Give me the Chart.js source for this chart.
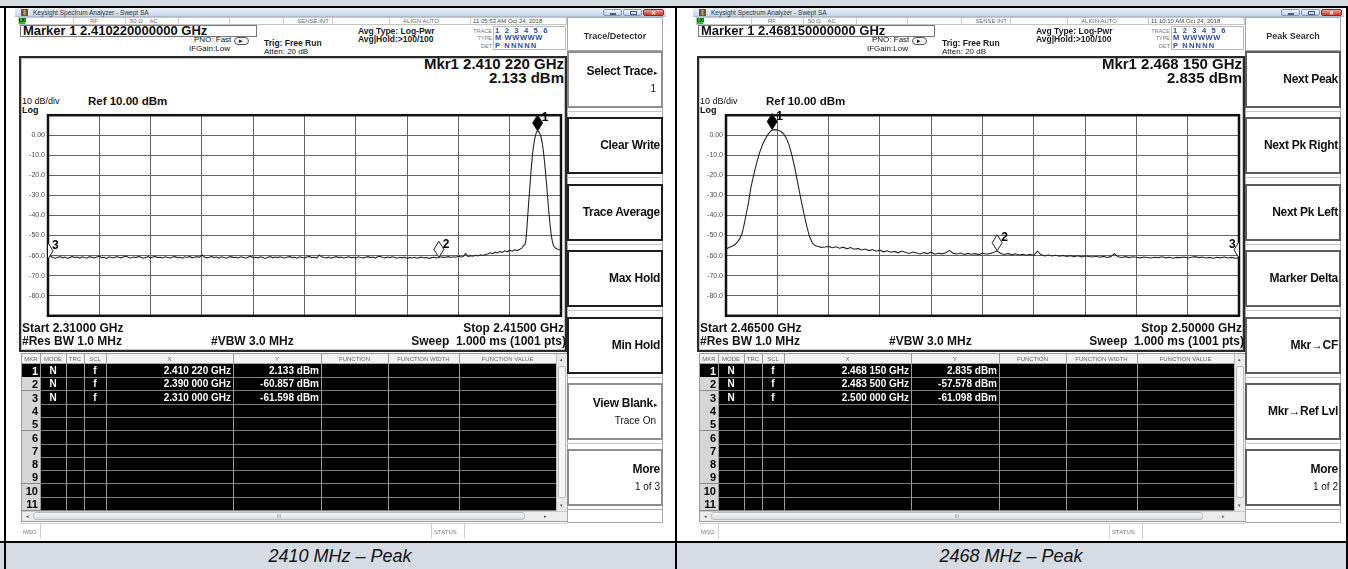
<!DOCTYPE html>
<html>
<head>
<meta charset="utf-8">
<title>Spectrum Analyzer - Peak</title>
<script src="https://cdn.jsdelivr.net/npm/chart.js@4.4.1/dist/chart.umd.min.js"></script>
<style>
    html, body { margin: 0; padding: 0; background: #fff; }
    body { width: 1348px; height: 569px; position: relative; overflow: hidden;
           font-family: "Liberation Sans", Arial, sans-serif; color: #111; }
    .a { position: absolute; box-sizing: border-box; }
    .t { line-height: 16px; white-space: nowrap; }
</style>
</head>
<body>
<div id="page"></div>
<script>
// ========================================
// Data (read from the two analyzer screens)
// ========================================

// Y axis ticks
const yTickValues = [0, -10, -20, -30, -40, -50, -60, -70, -80];
const yTickLabels = ['0.00', '-10.0', '-20.0', '-30.0', '-40.0', '-50.0', '-60.0', '-70.0', '-80.0'];

// Left screen: 2.310 - 2.415 GHz (MHz)
const leftSpan = [2310.0, 2415.0];
const leftFloorStart = 2310.0;
const leftFloorStep = 0.5;
const leftFloor = [
    -60.6, -60.2, -60.9, -61.3, -60.8, -60.5, -61.1, -60.7, -61.4, -60.9,
    -60.4, -61.0, -60.7, -61.2, -60.6, -60.9, -61.3, -60.5, -60.8, -61.1,
    -60.7, -60.3, -61.0, -60.8, -61.4, -60.6, -60.9, -61.2, -60.5, -60.8,
    -61.1, -60.6, -60.3, -60.9, -61.2, -60.7, -61.0, -60.4, -60.8, -61.3,
    -60.9, -60.5, -61.1, -60.7, -60.4, -61.0, -60.8, -61.2, -60.6, -60.9,
    -61.2, -60.7, -60.5, -61.0, -60.8, -61.3, -60.6, -60.9, -60.4, -61.1,
    -60.8, -60.5, -60.9, -59.6, -60.7, -61.1, -60.8, -60.4, -61.0, -60.7,
    -61.2, -60.6, -60.9, -61.3, -60.7, -60.5, -61.0, -60.8, -61.2, -60.6,
    -60.9, -61.3, -60.7, -60.4, -61.0, -60.8, -61.1, -60.6, -60.9, -61.4,
    -60.8, -60.5, -61.1, -60.7, -61.0, -60.6, -60.9, -61.2, -60.7, -60.5,
    -61.0, -60.8, -61.3, -60.6, -60.9, -61.1, -60.7, -60.4, -61.0, -60.8,
    -61.2, -59.7, -60.6, -60.9, -61.1, -60.7, -61.3, -60.8, -60.5, -61.0,
    -60.7, -61.2, -60.9, -60.6, -61.0, -60.8, -61.3, -60.6, -60.9, -61.1,
    -60.8, -60.5, -61.0, -60.7, -61.2, -60.6, -60.3, -60.9, -61.1, -60.7,
    -61.0, -60.6, -60.9, -61.3, -60.8, -61.1, -60.7, -61.4, -60.9, -61.2,
    -60.8, -61.3, -61.0, -60.7, -61.2, -60.9, -61.4, -61.0, -60.8, -61.1,
    -60.9, -60.6, -61.0, -60.7, -60.5, -60.9, -60.6, -60.8, -60.3, -60.7,
    -60.4, -59.0, -60.5, -60.0, -60.3, -59.8, -60.2, -59.6, -59.9, -59.4,
    -59.2, -58.6, -59.0, -58.3, -58.7, -57.9, -58.4, -57.6, -58.1, -57.3,
    -57.8, -57.1, -57.5
];
const leftPeakFreqs = [
    2406.5, 2407.0, 2407.3, 2407.6, 2407.8, 2408.0, 2408.2, 2408.4, 2408.6, 2408.8,
    2409.0, 2409.2, 2409.4, 2409.6, 2409.8, 2410.0, 2410.2, 2410.4, 2410.6, 2410.8,
    2411.0, 2411.2, 2411.4, 2411.6, 2411.8, 2412.0, 2412.2, 2412.4, 2412.6, 2412.8,
    2413.0, 2413.2, 2413.4, 2413.6, 2413.9, 2414.2, 2414.5, 2414.8, 2415.0
];
const leftPeakLevels = [
    -56.9, -56.3, -55.0, -54.6, -52.5, -47.0, -40.0, -33.0, -26.5, -20.0,
    -14.0, -9.0, -5.0, -2.0, 0.2, 1.6, 2.1, 1.9, 1.2, 0.0,
    -1.8, -4.5, -8.0, -12.5, -17.5, -23.0, -29.0, -35.0, -40.5, -45.5,
    -49.5, -52.5, -54.5, -55.6, -56.3, -56.7, -57.0, -57.2, -57.3
];
const leftMarkerFreqs = [2410.22, 2390.0, 2310.0];
const leftMarkerLevels = [2.133, -60.857, -61.598];

// Right screen: 2.465 - 2.500 GHz (MHz)
const rightSpan = [2465.0, 2500.0];
const rightPeakFreqs = [
    2465.0, 2465.2, 2465.4, 2465.6, 2465.8, 2465.95, 2466.1, 2466.25, 2466.4, 2466.55,
    2466.7, 2466.9, 2467.1, 2467.3, 2467.5, 2467.7, 2467.9, 2468.1, 2468.3, 2468.5,
    2468.7, 2468.9, 2469.1, 2469.3, 2469.5, 2469.7, 2469.9, 2470.1, 2470.3, 2470.5,
    2470.7, 2470.9, 2471.1, 2471.3, 2471.5, 2471.75
];
const rightPeakLevels = [
    -56.8, -56.0, -55.3, -54.6, -53.0, -51.4, -49.0, -44.0, -38.5, -33.0,
    -26.0, -19.5, -13.5, -8.5, -4.5, -1.5, 0.8, 2.4, 2.8, 2.6,
    2.1, 1.0, -1.2, -4.8, -10.0, -16.5, -24.0, -31.5, -38.5, -45.0,
    -50.5, -53.8, -55.1, -55.5, -55.9, -55.7
];
const rightFloorStart = 2472.0;
const rightFloorStep = 0.25;
const rightFloor = [
    -55.4, -56.1, -55.6, -56.3, -55.8, -56.6, -56.0, -56.8,
    -56.4, -57.2, -56.7, -57.5, -57.0, -57.8, -57.3, -58.1,
    -57.6, -58.3, -57.9, -58.6, -57.7, -58.4, -58.9, -58.2,
    -58.7, -59.2, -58.5, -59.0, -58.3, -59.3, -58.8, -59.1,
    -58.6, -57.4, -58.9, -59.2, -58.7, -59.4, -58.9, -59.3,
    -59.0, -59.5, -58.8, -59.2, -59.0, -58.4, -57.6, -58.9,
    -59.4, -58.9, -59.6, -59.1, -59.7, -59.3, -59.8, -59.4,
    -59.9, -57.8, -59.6, -60.1, -59.7, -60.2, -59.8, -60.3,
    -59.9, -60.4, -60.0, -60.5, -60.1, -60.6, -60.2, -60.4,
    -60.7, -60.3, -60.8, -60.4, -60.9, -60.5, -59.0, -60.6,
    -60.9, -60.5, -61.0, -60.6, -60.8, -61.1, -60.7, -60.9,
    -61.2, -60.8, -61.0, -60.6, -61.1, -60.8, -61.3, -60.9,
    -61.0, -60.7, -61.2, -60.8, -60.5, -61.0, -60.7, -61.2,
    -60.9, -61.3, -60.8, -61.1, -60.7, -61.2, -60.9, -61.3,
    -61.1
];
const rightMarkerFreqs = [2468.15, 2483.5, 2500.0];
const rightMarkerLevels = [2.835, -57.578, -61.098];

// ========================================
// Screen texts
// ========================================
const panels = [
    {
        ox: 0, canvas: 'leftChart',
        markerLine: 'Marker 1 2.410220000000 GHz',
        time: '11:05:53 AM Oct 24, 2018',
        mkr: 'Mkr1 2.410 220 GHz', mkrVal: '2.133 dBm',
        start: 'Start 2.31000 GHz', stop: 'Stop 2.41500 GHz',
        rows: [['N', 'f', '2.410 220 GHz', '2.133 dBm'],
               ['N', 'f', '2.390 000 GHz', '-60.857 dBm'],
               ['N', 'f', '2.310 000 GHz', '-61.598 dBm']],
        keysTitle: 'Trace/Detector',
        keys: [
            { l1: 'Select Trace', l2: '1', arrow: true, s: 'g' },
            { l1: 'Clear Write', s: 'k' },
            { l1: 'Trace Average', s: 'k' },
            { l1: 'Max Hold', s: 'k' },
            { l1: 'Min Hold', s: 'k' },
            { l1: 'View Blank', l2: 'Trace On', arrow: true, s: 'g' },
            { l1: 'More', l2: '1 of 3', s: 'g' }
        ],
        caption: '2410 MHz &ndash; Peak'
    },
    {
        ox: 678, canvas: 'rightChart',
        markerLine: 'Marker 1 2.468150000000 GHz',
        time: '11:10:10 AM Oct 24, 2018',
        mkr: 'Mkr1 2.468 150 GHz', mkrVal: '2.835 dBm',
        start: 'Start 2.46500 GHz', stop: 'Stop 2.50000 GHz',
        rows: [['N', 'f', '2.468 150 GHz', '2.835 dBm'],
               ['N', 'f', '2.483 500 GHz', '-57.578 dBm'],
               ['N', 'f', '2.500 000 GHz', '-61.098 dBm']],
        keysTitle: 'Peak Search',
        keys: [
            { l1: 'Next Peak', s: 'd' },
            { l1: 'Next Pk Right', s: 'd' },
            { l1: 'Next Pk Left', s: 'd' },
            { l1: 'Marker Delta', s: 'd' },
            { l1: 'Mkr&rarr;CF', s: 'd' },
            { l1: 'Mkr&rarr;Ref Lvl', s: 'd' },
            { l1: 'More', l2: '1 of 2', s: 'd' }
        ],
        caption: '2468 MHz &ndash; Peak'
    }
];

// ========================================
// Small HTML helpers
// ========================================
function box(x, y, w, h, style, inner) {
    return '<div class="a" style="left:' + x + 'px;top:' + y + 'px;width:' + w + 'px;height:' + h + 'px;' +
        (style || '') + '">' + (inner || '') + '</div>';
}
function text(x, y, s, style) {
    return '<div class="a t" style="left:' + x + 'px;top:' + (y - 8) + 'px;' + (style || '') + '">' + s + '</div>';
}
function textR(x, y, s, style) {
    return '<div class="a t" style="left:' + (x - 400) + 'px;width:400px;text-align:right;top:' + (y - 8) + 'px;' +
        (style || '') + '">' + s + '</div>';
}
function textC(x, y, s, style) {
    return '<div class="a t" style="left:' + (x - 200) + 'px;width:400px;text-align:center;top:' + (y - 8) + 'px;' +
        (style || '') + '">' + s + '</div>';
}

function panelHtml(p) {
    let h = '';
    const small = 'font-size:6px;color:#6a6a6a;';
    const setting = 'font-size:8.5px;font-weight:bold;color:#1a1a1a;';
    const big = 'font-size:12px;font-weight:bold;';
    const blue = 'font-size:7.5px;font-weight:bold;color:#2c4f9e;';

    // window + title bar
    h += box(15, 8, 651, 533, 'background:#fff;');
    h += box(15, 8, 651, 9, 'background:linear-gradient(#eaf1fa,#c7d7eb);border-bottom:1px solid #aebdd2;');
    h += box(21, 9, 7, 7, 'background:linear-gradient(90deg,#4b3f25,#c9a956,#4b3f25);border:1px solid #6b5a30;');
    h += text(33, 12.5, 'Keysight Spectrum Analyzer - Swept SA', 'font-size:6.5px;color:#333;');
    const wb = 'border:1px solid #8197b3;border-radius:2px;background:linear-gradient(#f6f9fd,#bdd0e7);';
    h += box(603, 9, 19, 7, wb, '<div class="a" style="left:6px;top:3px;width:6px;height:2px;background:#4a5d78;"></div>');
    h += box(623, 9, 19, 7, wb, '<div class="a" style="left:6px;top:1px;width:7px;height:4px;border:1px solid #4a5d78;"></div>');
    h += box(643, 9, 21, 7, 'border:1px solid #8e2a20;border-radius:2px;background:linear-gradient(#eba397,#c43c2d);',
        textC(9, 2.5, '&#x2715;', 'font-size:6px;color:#fff;font-weight:bold;'));

    // status row
    h += box(18, 17, 549, 8, 'border:1px solid #c4c4c4;background:#fff;');
    [25, 73, 125, 178, 229, 283, 332, 389, 470].forEach(function (x) {
        h += box(x, 17, 1, 8, 'background:#cacaca;');
    });
    h += box(19, 18, 6, 6, 'background:#22c322;', text(0, 3, 'LXI', 'font-size:4.5px;font-weight:bold;'));
    h += textC(94, 21, 'RF', small);
    h += text(130, 21, '50 &Omega;&nbsp;&nbsp;&nbsp; AC', small);
    h += textC(313, 21, 'SENSE:INT', small);
    h += textC(421, 21, 'ALIGN AUTO', small);
    h += text(473, 21, p.time, small + 'color:#444;');

    // marker box and settings
    h += box(20, 25, 237, 12, 'border:1px solid #777;');
    h += text(23, 31, p.markerLine, 'font-size:13px;font-weight:bold;');
    h += text(194, 40, 'PNO: Fast', 'font-size:8px;');
    h += box(234, 37, 15, 8, 'border:1px solid #555;border-radius:4px;background:#f4f4f4;',
        text(4, 3, '&#9656;', 'font-size:7px;'));
    h += text(189, 49, 'IFGain:Low', 'font-size:8px;');
    h += text(264, 43, 'Trig: Free Run', setting);
    h += text(264, 52, 'Atten: 20 dB', 'font-size:8px;');
    h += text(358, 31, 'Avg Type: Log-Pwr', setting);
    h += text(358, 39, 'Avg|Hold:&gt;100/100', setting);

    // trace / type / det block
    h += box(493, 26, 73, 24, 'border:1px solid #b9b9b9;');
    h += textR(492, 30.5, 'TRACE', 'font-size:5.5px;color:#777;');
    h += text(495, 30.5, '1 2 3 4 5 6', blue + 'letter-spacing:1.7px;');
    h += textR(492, 38, 'TYPE', 'font-size:5.5px;color:#777;');
    h += text(495, 38, 'M WWWWW', blue + 'letter-spacing:0.6px;');
    h += textR(492, 45.5, 'DET', 'font-size:5.5px;color:#777;');
    h += text(495, 45.5, 'P NNNNN', blue + 'letter-spacing:1.2px;');

    // graph box
    h += box(19, 56, 548, 296, 'border:2px solid #2a2a2a;box-shadow:inset 0 0 0 1px #c4c4c4;background:#fff;');
    h += textR(564, 64, p.mkr, 'font-size:15px;font-weight:bold;');
    h += textR(564, 78, p.mkrVal, 'font-size:15px;font-weight:bold;');
    h += text(22, 101, '10 dB/div', 'font-size:9px;');
    h += text(88, 101, 'Ref 10.00 dBm', 'font-size:11.5px;font-weight:bold;');
    h += text(22, 110, 'Log', 'font-size:9px;font-weight:bold;');
    h += '<canvas id="' + p.canvas + '" class="a" width="549" height="215" style="left:18px;top:108px;"></canvas>';
    h += text(22, 328, p.start, big);
    h += textR(564, 328, p.stop, big);
    h += text(22, 341, '#Res BW 1.0 MHz', big);
    h += text(211, 341, '#VBW 3.0 MHz', big);
    h += textR(566, 341, 'Sweep&nbsp; 1.000 ms (1001 pts)', big);

    // marker table
    const colX = [40, 66, 84, 106, 233, 321, 388, 459, 556];
    const heads = ['MKR', 'MODE', 'TRC', 'SCL', 'X', 'Y', 'FUNCTION', 'FUNCTION WIDTH', 'FUNCTION VALUE'];
    const rowTop = 364, rowH = 13.3;
    h += box(21, 353, 546, 169, 'border:1px solid #9c9c9c;background:#fff;');
    h += box(22, 354, 534, 10, 'background:#f3f3f3;border-bottom:1px solid #a8a8a8;');
    let prev = 22;
    heads.forEach(function (t, i) {
        h += textC((prev + colX[i]) / 2, 359, t, 'font-size:6px;color:#666;');
        prev = colX[i];
    });
    h += box(22, rowTop, 534, Math.round(11 * rowH), 'background:#000;');
    for (let r = 0; r < 11; r++) {
        const top = Math.round(rowTop + r * rowH);
        const bg = r === 0 ? '#000' : '#d6d6d6';
        h += box(22, top, 18, 14, 'background:' + bg + ';border-bottom:1px solid #888;');
        h += textR(38, top + 7, String(r + 1), 'font-size:11px;font-weight:bold;color:' + (r === 0 ? '#fff' : '#000') + ';');
        h += box(40, top + 13, 516, 1, 'background:#7d7d7d;');
        if (r < p.rows.length) {
            const row = p.rows[r];
            const w = 'font-size:10px;font-weight:bold;color:#fff;';
            h += textC(53, top + 7, row[0], w);
            h += textC(95, top + 7, row[1], w);
            h += textR(231, top + 7, row[2], w);
            h += textR(319, top + 7, row[3], w);
        }
    }
    colX.forEach(function (x) {
        h += box(x, 354, 1, 157, 'background:#9a9a9a;');
    });
    // scrollbars
    h += box(556, 354, 11, 157, 'background:#e9e9e9;border-left:1px solid #bbb;');
    h += box(558, 366, 8, 132, 'background:#f7f7f7;border:1px solid #bdbdbd;border-radius:2px;');
    h += textC(561, 359, '&#9652;', 'font-size:5px;color:#555;');
    h += textC(561, 505, '&#9662;', 'font-size:5px;color:#555;');
    h += box(22, 511, 545, 10, 'background:#ececec;border-top:1px solid #c9c9c9;');
    h += box(33, 512, 492, 8, 'background:linear-gradient(#f6f8fa,#d8dde3);border:1px solid #b8bdc4;border-radius:3px;');
    h += textC(279, 516, 'III', 'font-size:5px;color:#888;');
    h += textC(27, 516, '&#9666;', 'font-size:5px;color:#555;');
    h += textC(545, 516, '&#9656;', 'font-size:5px;color:#555;');
    // message row
    h += box(21, 523, 546, 16, 'border-top:1px solid #d0d0d0;');
    h += box(40, 524, 1, 15, 'background:#d0d0d0;');
    h += box(431, 524, 1, 15, 'background:#d0d0d0;');
    h += box(464, 524, 1, 15, 'background:#d0d0d0;');
    h += text(23, 532, 'MSG', 'font-size:6px;color:#777;');
    h += text(434, 532, 'STATUS', 'font-size:6px;color:#777;');

    // softkeys
    h += box(567, 17, 96, 506, 'border-left:1px solid #a9a9a9;border-right:1px solid #a9a9a9;background:#fff;');
    h += box(567, 17, 96, 34, 'border:1px solid #a9a9a9;');
    h += textC(615, 36, p.keysTitle, 'font-size:9px;font-weight:bold;color:#333;');
    const tops = [51, 117, 184, 250, 317, 383, 449];
    const borders = { g: '2px solid #8e8e8e', k: '2px solid #1f1f1f', d: '2px solid #5e5e5e' };
    p.keys.forEach(function (k, i) {
        const top = tops[i];
        h += box(567, top + 60, 96, 1, 'background:#c4c4c4;');
        h += box(567, top, 96, 57, 'border:' + borders[k.s] + ';background:#fff;');
        const keyFont = 'font-size:12px;font-weight:bold;letter-spacing:-0.3px;';
        if (k.l2) {
            h += textR(k.arrow ? 653 : 660, top + 20, k.l1, keyFont);
            if (k.arrow) h += text(654, top + 22, '&#9656;', 'font-size:7px;');
            h += textR(k.arrow ? 656 : 660, top + 38, k.l2, 'font-size:10px;');
        } else {
            h += textR(660, top + 28, k.l1, keyFont);
        }
    });
    h += box(567, 509, 96, 14, 'border:1px solid #a9a9a9;');

    return '<div class="a" style="left:' + p.ox + 'px;top:0;width:674px;height:543px;">' + h + '</div>';
}

// ========================================
// Page frame (document table around the two screens)
// ========================================
function buildPage() {
    let h = '';
    h += box(0, 0, 1348, 7, 'background:#d6dce4;');
    h += box(0, 543, 1348, 26, 'background:#d6dce4;');
    panels.forEach(function (p) { h += panelHtml(p); });
    h += box(0, 6, 1348, 2, 'background:#000;');
    h += box(0, 541, 1348, 2, 'background:#000;');
    h += box(4, 6, 2, 563, 'background:#000;');
    h += box(675, 6, 2, 563, 'background:#000;');
    h += box(1346, 6, 2, 563, 'background:#000;');
    h += textC(340, 556, panels[0].caption, 'font-size:18px;font-style:italic;');
    h += textC(1011, 556, panels[1].caption, 'font-size:18px;font-style:italic;');
    document.getElementById('page').innerHTML = h;
}

// ========================================
// Charts
// ========================================
function sweepPoints(start, step, levels) {
    return levels.map(function (v, i) { return { x: start + i * step, y: v }; });
}
function pairPoints(freqs, levels) {
    return freqs.map(function (f, i) { return { x: f, y: levels[i] }; });
}

const framePlugin = {
    id: 'frame',
    beforeDatasetsDraw: function (chart) {
        const a = chart.chartArea, ctx = chart.ctx;
        ctx.save();
        ctx.strokeStyle = '#111';
        ctx.lineWidth = 2.5;
        ctx.strokeRect(a.left, a.top, a.right - a.left, a.bottom - a.top);
        ctx.restore();
    }
};

function markerPlugin(freqs, levels) {
    return {
        id: 'markers',
        afterDatasetsDraw: function (chart) {
            const ctx = chart.ctx, xs = chart.scales.x, ys = chart.scales.y, a = chart.chartArea;
            freqs.forEach(function (f, i) {
                const px = xs.getPixelForValue(f);
                const py = ys.getPixelForValue(levels[i]);
                ctx.save();
                ctx.beginPath();
                ctx.rect(a.left, a.top - 6, a.right - a.left, a.bottom - a.top + 6);
                ctx.clip();
                ctx.beginPath();
                ctx.moveTo(px, py);
                ctx.lineTo(px + 5, py - 8);
                ctx.lineTo(px, py - 16);
                ctx.lineTo(px - 5, py - 8);
                ctx.closePath();
                ctx.fillStyle = i === 0 ? '#000' : '#fff';
                ctx.fill();
                ctx.strokeStyle = '#222';
                ctx.lineWidth = 1;
                ctx.stroke();
                ctx.restore();

                ctx.save();
                ctx.font = 'bold 12px "Liberation Sans", Arial, sans-serif';
                ctx.fillStyle = '#000';
                ctx.textBaseline = 'middle';
                const lx = px > a.right - 12 ? px - 10 : px + 4;
                ctx.fillText(String(i + 1), lx, py - 13);
                ctx.restore();
            });
        }
    };
}

function drawTrace(canvasId, points, span, mkFreqs, mkLevels) {
    const ctx = document.getElementById(canvasId);
    new Chart(ctx, {
        type: 'line',
        data: {
            datasets: [{
                data: points,
                borderColor: '#262626',
                borderWidth: 1.1,
                pointRadius: 0,
                tension: 0,
                fill: false
            }]
        },
        options: {
            responsive: false,
            animation: false,
            devicePixelRatio: 1,
            layout: { padding: { left: 0, right: 6, top: 5, bottom: 2 } },
            plugins: {
                legend: { display: false },
                tooltip: { enabled: false }
            },
            scales: {
                x: {
                    type: 'linear',
                    min: span[0],
                    max: span[1],
                    afterBuildTicks: function (scale) {
                        const ticks = [];
                        for (let i = 0; i <= 10; i++) {
                            ticks.push({ value: scale.min + (scale.max - scale.min) * i / 10 });
                        }
                        scale.ticks = ticks;
                    },
                    afterFit: function (scale) { scale.height = 0; },
                    ticks: { display: false },
                    grid: { color: '#646464', lineWidth: 1, drawTicks: false },
                    border: { display: false }
                },
                y: {
                    min: -90,
                    max: 10,
                    afterFit: function (scale) { scale.width = 30; },
                    ticks: {
                        stepSize: 10,
                        padding: 3,
                        color: '#4a4a4a',
                        font: { size: 7 },
                        callback: function (v) {
                            const idx = yTickValues.indexOf(v);
                            return idx < 0 ? null : yTickLabels[idx];
                        }
                    },
                    grid: { color: '#646464', lineWidth: 1, drawTicks: false },
                    border: { display: false }
                }
            }
        },
        plugins: [framePlugin, markerPlugin(mkFreqs, mkLevels)]
    });
}

document.addEventListener('DOMContentLoaded', function () {
    buildPage();
    Chart.defaults.font.family = '"Liberation Sans", Arial, sans-serif';

    const leftPoints = sweepPoints(leftFloorStart, leftFloorStep, leftFloor)
        .concat(pairPoints(leftPeakFreqs, leftPeakLevels));
    const rightPoints = pairPoints(rightPeakFreqs, rightPeakLevels)
        .concat(sweepPoints(rightFloorStart, rightFloorStep, rightFloor));

    drawTrace('leftChart', leftPoints, leftSpan, leftMarkerFreqs, leftMarkerLevels);
    drawTrace('rightChart', rightPoints, rightSpan, rightMarkerFreqs, rightMarkerLevels);
});
</script>
</body>
</html>
